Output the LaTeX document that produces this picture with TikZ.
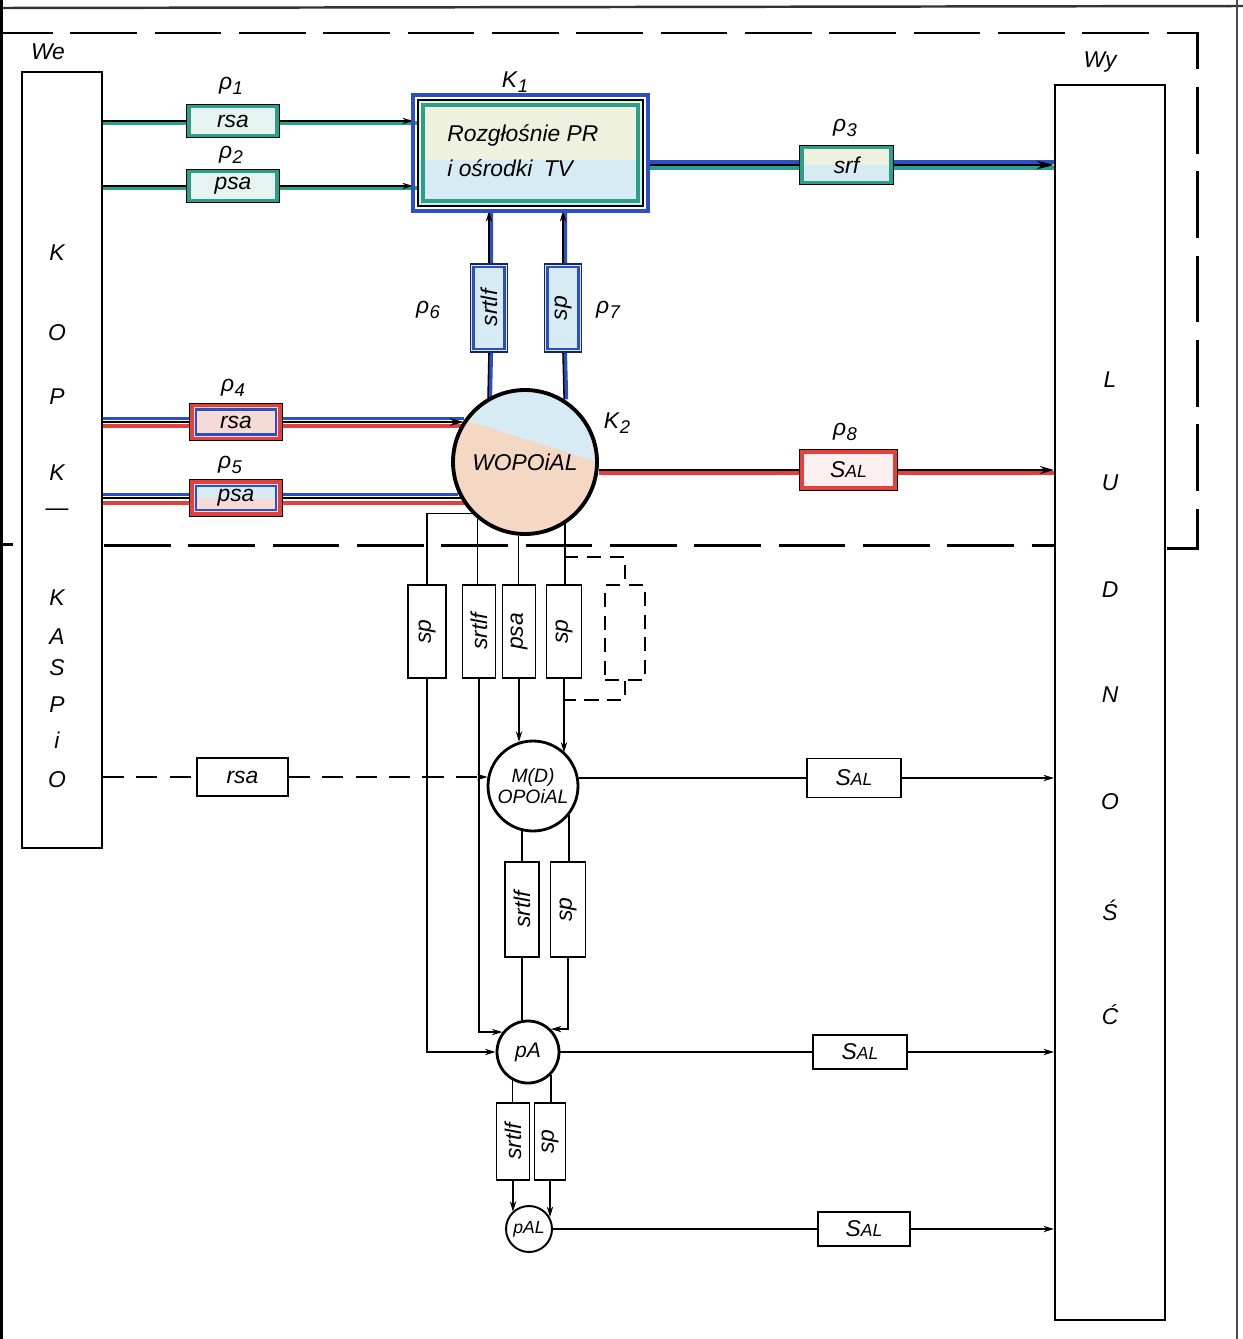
\documentclass[tikz,border=0pt]{standalone}
\usepackage{fontspec}
\usepackage{graphicx}
\setmainfont{Liberation Sans}
\usetikzlibrary{arrows.meta,calc,backgrounds}
\newdimen\px \px=0.02cm
\definecolor{tealc}{HTML}{2AA08A}
\definecolor{bluec}{HTML}{2C4FC6}
\definecolor{redc}{HTML}{E4403C}
\definecolor{peach}{HTML}{F5D8C4}
\definecolor{lblue}{HTML}{D6EBF3}
\definecolor{cream}{HTML}{EDF1DE}
\definecolor{pinkc}{HTML}{F6DAD6}
\newcommand{\bandbox}[4]{\draw[#2, line width=#3] ($(#1.south west)+(#4,-#4)$) rectangle ($(#1.north east)+(-#4,#4)$);}
\newcommand{\outbox}[4]{\draw[#2, line width=#3] ($(#1.south west)+(-#4,#4)$) rectangle ($(#1.north east)+(#4,-#4)$);}
\newcommand{\rlab}[1]{ρ\kern0.3pt\raisebox{-0.45ex}{\fontsize{10.5}{12}\selectfont #1}}
\newcommand{\klab}[1]{K\kern0.5pt\raisebox{-0.45ex}{\fontsize{10.5}{12}\selectfont #1}}
\newcommand{\sal}{S{\fontsize{10}{12}\selectfont AL}}
\begin{document}
\begin{tikzpicture}[x=0.02cm,y=-0.02cm,
  hand/.style={font=\itshape\fontsize{13}{15}\selectfont},
  lbl/.style={hand, inner sep=0pt},
  bx/.style={draw, line width=1.1pt, fill=white, inner sep=0pt, hand},
  ln/.style={line width=0.9pt},
  arr/.style={-{Stealth[length=8pt,width=4.5pt]}},
  sarr/.style={-{Stealth[length=6pt,width=3.6pt]}},
  circ/.style={circle, draw, line width=1.6pt, fill=white, inner sep=0pt, hand},
  bnd/.style={line width=1.7pt, dash pattern=on 38pt off 10pt},
  shortdash/.style={line width=0.9pt, dash pattern=on 12pt off 7pt},
]
\useasboundingbox (0,0) rectangle (1243,1339);
% page edges
\draw[line width=1.4pt, black!80] (0,8) -- (1243,6);
\draw[line width=2.2pt, black] (1,0) -- (1,1339);
\draw[line width=0.8pt, black!70] (1237,0) -- (1237,1339);

% ---------- side boxes ----------
\node[bx, minimum width=80\px, minimum height=776\px] (kopk) at (62,460) {};
\foreach \t/\y [count=\i] in {K/253,O/333,P/397,K/473,—/512,K/598,A/637,S/668,P/705,i/740,O/780}
  \node[lbl] (kp\i) at (57,\y) {\t};
\node[bx, minimum width=110\px, minimum height=1235\px] (lud) at (1110,702.5) {};
\foreach \t/\y [count=\i] in {L/380,U/483,D/590,N/695,O/802,Ś/910,Ć/1015}
  \node[lbl] (ld\i) at (1110,\y) {\t};
\node[lbl] (we) at (48,52) {We};
\node[lbl] (wy) at (1100,62) {Wy};

% ---------- upper part ----------
\node[bx, fill=white!88!tealc, minimum width=92\px, minimum height=33\px] (p1) at (233,121) {rsa};
\bandbox{p1}{tealc}{2pt}{3}
\node[bx, fill=white!88!tealc, minimum width=92\px, minimum height=33\px] (p2) at (233,186) {psa};
\bandbox{p2}{tealc}{2pt}{3}
\node[lbl] (r1) at (231,86) {\rlab{1}};
\node[lbl] (r2) at (231,155) {\rlab{2}};

\node[bx, fill=cream, minimum width=225\px, minimum height=106\px,
  path picture={\fill[lblue] ([yshift=-4pt]path picture bounding box.west) rectangle (path picture bounding box.south east);}] (k1) at (530.5,153) {};
\bandbox{k1}{tealc}{2.4pt}{6}
\outbox{k1}{bluec}{2pt}{4}
\node[lbl, anchor=west] (k1a) at (447,135) {Rozgłośnie PR};
\node[lbl, anchor=west] (k1b) at (447,168) {i ośrodki\enspace TV};
\node[lbl] (k1l) at (515,82) {\klab{1}};

\node[bx, fill=cream, minimum width=93\px, minimum height=39\px,
  path picture={\fill[lblue] (path picture bounding box.west) rectangle (path picture bounding box.south east);}] (p3) at (846.5,165) {srf};
\bandbox{p3}{tealc}{2pt}{3}
\node[lbl] (r3) at (845,128) {\rlab{3}};

\node[bx, draw=bluec!50!black, fill=lblue, minimum width=37\px, minimum height=88\px] (p6) at (489,308) {\rotatebox{90}{srtlf}};
\bandbox{p6}{bluec}{1.6pt}{4}
\node[bx, draw=bluec!50!black, fill=lblue, minimum width=37\px, minimum height=88\px] (p7) at (563,308) {\rotatebox{90}{sp}};
\bandbox{p7}{bluec}{1.6pt}{4}
\node[lbl] (r6) at (428,310) {\rlab{6}};
\node[lbl] (r7) at (608,310) {\rlab{7}};

\node[circ, fill=lblue, line width=2.2pt, minimum size=144\px,
  path picture={\fill[peach] ([yshift=26pt]path picture bounding box.west) -- (path picture bounding box.east) -- (path picture bounding box.south east) -- (path picture bounding box.south west) -- cycle;}] (k2) at (525,462) {WOPOiAL};
\node[lbl] (k2l) at (617,423) {\klab{2}};

\node[bx, fill=pinkc, minimum width=92\px, minimum height=37\px] (p4) at (236,422) {rsa};
\bandbox{p4}{redc}{2.2pt}{3}
\bandbox{p4}{bluec}{1.3pt}{7}
\node[bx, fill=pinkc, minimum width=92\px, minimum height=36\px,
  path picture={\fill[lblue] (path picture bounding box.west) rectangle (path picture bounding box.north east);}] (p5) at (236,498) {psa};
\bandbox{p5}{redc}{2.2pt}{3}
\bandbox{p5}{bluec}{1.3pt}{7}
\node[lbl] (r4) at (233,388) {\rlab{4}};
\node[lbl] (r5) at (230,465) {\rlab{5}};

\node[bx, fill=pinkc!40, minimum width=97\px, minimum height=40\px] (p8) at (848.5,470) {\sal};
\bandbox{p8}{redc}{2.2pt}{3}
\node[lbl] (r8) at (845,432) {\rlab{8}};

% ---------- lower part ----------
\node[bx, minimum width=38\px, minimum height=93\px] (m1) at (427,631.5) {\rotatebox{90}{sp}};
\node[bx, minimum width=33\px, minimum height=93\px] (m2) at (479,631.5) {\rotatebox{90}{srtlf}};
\node[bx, minimum width=33\px, minimum height=93\px] (m3) at (519,631.5) {\rotatebox{90}{psa}};
\node[bx, minimum width=35\px, minimum height=93\px] (m4) at (564,631.5) {\rotatebox{90}{sp}};
\node[draw, line width=0.9pt, dash pattern=on 8pt off 5pt, minimum width=40\px, minimum height=95\px] (m5) at (625,632.5) {};

\node[circ, minimum size=90\px, align=center, font=\itshape\fontsize{11}{12}\selectfont] (md) at (533,786) {M(D)\\OPOiAL};
\node[bx, minimum width=91\px, minimum height=38\px] (q1) at (242.5,777) {rsa};
\node[bx, minimum width=94\px, minimum height=39\px] (s1) at (854,778) {\sal};

\node[bx, minimum width=34\px, minimum height=95\px] (n1) at (522,909.5) {\rotatebox{90}{srtlf}};
\node[bx, minimum width=35\px, minimum height=95\px] (n2) at (568,909.5) {\rotatebox{90}{sp}};

\node[circ, minimum size=62\px, font=\itshape\fontsize{12}{13}\selectfont] (pa) at (528,1052) {pA};
\node[bx, minimum width=94\px, minimum height=34\px] (s2) at (860,1052) {\sal};

\node[bx, minimum width=33\px, minimum height=77\px] (o1) at (513,1141.5) {\rotatebox{90}{srtlf}};
\node[bx, minimum width=31\px, minimum height=77\px] (o2) at (550,1141.5) {\rotatebox{90}{sp}};

\node[circ, line width=1.1pt, minimum size=46\px, font=\itshape\fontsize{10}{12}\selectfont] (pal) at (529,1229) {pAL};
\node[bx, minimum width=92\px, minimum height=34\px] (s3) at (864,1229) {\sal};

% ---------- connectors ----------
\begin{scope}[on background layer]
% boundary
\draw[bnd, dash phase=8pt] (0,33) -- (1197,33) -- (1197,522);
\draw[line width=1.7pt] (1197,522) -- (1197,548) -- (1167,548);
\draw[line width=1.7pt] (0,544) -- (13,544);
\draw[bnd] (104,545) -- (1055,545);

% p1, p2 -> K1
\draw[tealc, line width=2.2pt, transform canvas={yshift=-1.3pt}] (kopk.east |- p1.west) -- (p1.west) (p1.east) -- (p1.east -| k1.west);
\draw[tealc, line width=2.2pt, transform canvas={yshift=-1.3pt}] (kopk.east |- p2.west) -- (p2.west) (p2.east) -- (p2.east -| k1.west);
\draw[ln] (kopk.east |- p1.west) -- (p1.west);
\draw[ln, sarr] (p1.east) -- ($(p1.east -| k1.west)+(-4,0)$);
\draw[ln] (kopk.east |- p2.west) -- (p2.west);
\draw[ln, sarr] (p2.east) -- ($(p2.east -| k1.west)+(-4,0)$);

% K1 -> p3 -> lud
\draw[bluec, line width=2pt, transform canvas={yshift=1.6pt}] ($(p3.west -| k1.east)+(4,0)$) -- (p3.west) (p3.east) -- (p3.east -| lud.west);
\draw[tealc, line width=2pt, transform canvas={yshift=-1.6pt}] ($(p3.west -| k1.east)+(4,0)$) -- (p3.west) (p3.east) -- (p3.east -| lud.west);
\draw[ln] ($(p3.west -| k1.east)+(4,0)$) -- (p3.west);
\draw[ln, -{Stealth[length=10pt,width=5pt]}] (p3.east) -- (p3.east -| lud.west);

% K2 <-> p6, p7 <-> K1
\draw[bluec, line width=2pt, transform canvas={xshift=1.3pt}] (p6.north) -- ($(p6.north |- k1.south)+(0,4)$) (p6.south) -- (k2.120);
\draw[bluec, line width=2pt, transform canvas={xshift=1.3pt}] (p7.north) -- ($(p7.north |- k1.south)+(0,4)$) (p7.south) -- (k2.58);
\draw[ln, sarr] (p6.north) -- ($(p6.north |- k1.south)+(0,4)$);
\draw[ln, sarr] (p7.north) -- ($(p7.north |- k1.south)+(0,4)$);
\draw[ln] (p6.south) -- (k2.120);
\draw[ln] (p7.south) -- (k2.58);

% p4, p5 -> K2
\draw[bluec, line width=1.8pt, transform canvas={yshift=1.8pt}] (kopk.east |- p4.west) -- (p4.west) (p4.east) -- (p4.east -| k2.146);
\draw[redc, line width=2.2pt, transform canvas={yshift=-2.2pt}] (kopk.east |- p4.west) -- (p4.west) (p4.east) -- ($(p4.east -| k2.146)+(2,0)$);
\draw[ln] (kopk.east |- p4.west) -- (p4.west);
\draw[ln, arr] (p4.east) -- (p4.east -| k2.146);
\draw[bluec, line width=1.8pt, transform canvas={yshift=1.8pt}] (kopk.east |- p5.west) -- (p5.west) (p5.east) -- ($(p5.east -| k2.210)+(-3,0)$);
\draw[redc, line width=2.2pt, transform canvas={yshift=-2.6pt}] (kopk.east |- p5.west) -- (p5.west) (p5.east) -- ($(p5.east -| k2.210)+(4,0)$);
\draw[ln] (kopk.east |- p5.west) -- (p5.west);
\draw[ln] (p5.east) -- (p5.east -| k2.210);

% K2 -> p8 -> lud
\draw[redc, line width=2.4pt, transform canvas={yshift=-1.6pt}] (p8.west -| k2.-6) -- (p8.west) (p8.east) -- (p8.east -| lud.west);
\draw[ln] (p8.west -| k2.-6) -- (p8.west);
\draw[ln, arr] (p8.east) -- (p8.east -| lud.west);

% K2 -> middle row
\draw[ln] (k2.224) -| (m1.north);
\draw[ln] (k2.230) -- (k2.230 |- m2.north);
\draw[ln] (k2.265) -- (k2.265 |- m3.north);
\draw[ln] (k2.-57) -- (k2.-57 |- m4.north);
\coordinate (d1) at (564,557);
\coordinate (d2) at (564,700);
\draw[ln, dash pattern=on 8pt off 5pt] (d1) -| (m5.north);
\draw[ln, dash pattern=on 8pt off 5pt] (m5.south) |- (d2);

% middle row -> MD, PA
\draw[ln, sarr] (m1.south) |- (pa.west);
\draw[ln, sarr] (m2.south) |- (pa.142);
\draw[ln, sarr] (m3.south) -- (m3.south |- md.108);
\draw[ln, sarr] (m4.south) -- (m4.south |- md.46);

% rsa dashed -> MD
\draw[shortdash] (kopk.east |- q1.west) -- (q1.west);
\draw[shortdash, sarr] (q1.east) -- (q1.east -| md.168);

% MD -> SAL -> lud
\draw[ln] (md.10) -- (md.10 -| s1.west);
\draw[ln, sarr] (s1.east) -- (s1.east -| lud.west);

% MD -> n boxes -> PA
\draw[ln] (md.256) -- (md.256 |- n1.north);
\draw[ln] (md.-39) -- (md.-39 |- n2.north);
\draw[ln] (n1.south) -- (n1.south |- pa.101);
\draw[ln, sarr] (n2.south) |- (pa.45);

% PA -> SAL -> lud
\draw[ln] (pa.east) -- (s2.west);
\draw[ln, sarr] (s2.east) -- (s2.east -| lud.west);

% PA -> o boxes -> pAL
\draw[ln] (pa.-119) -- (pa.-119 |- o1.north);
\draw[ln] (pa.-45) -- (pa.-45 |- o2.north);
\draw[ln, sarr] (o1.south) -- (o1.south |- pal.134);
\draw[ln, sarr] (o2.south) -- (o2.south |- pal.30);

% pAL -> SAL -> lud
\draw[ln] (pal.east) -- (s3.west);
\draw[ln, sarr] (s3.east) -- (s3.east -| lud.west);
\end{scope}
\end{tikzpicture}
\end{document}
